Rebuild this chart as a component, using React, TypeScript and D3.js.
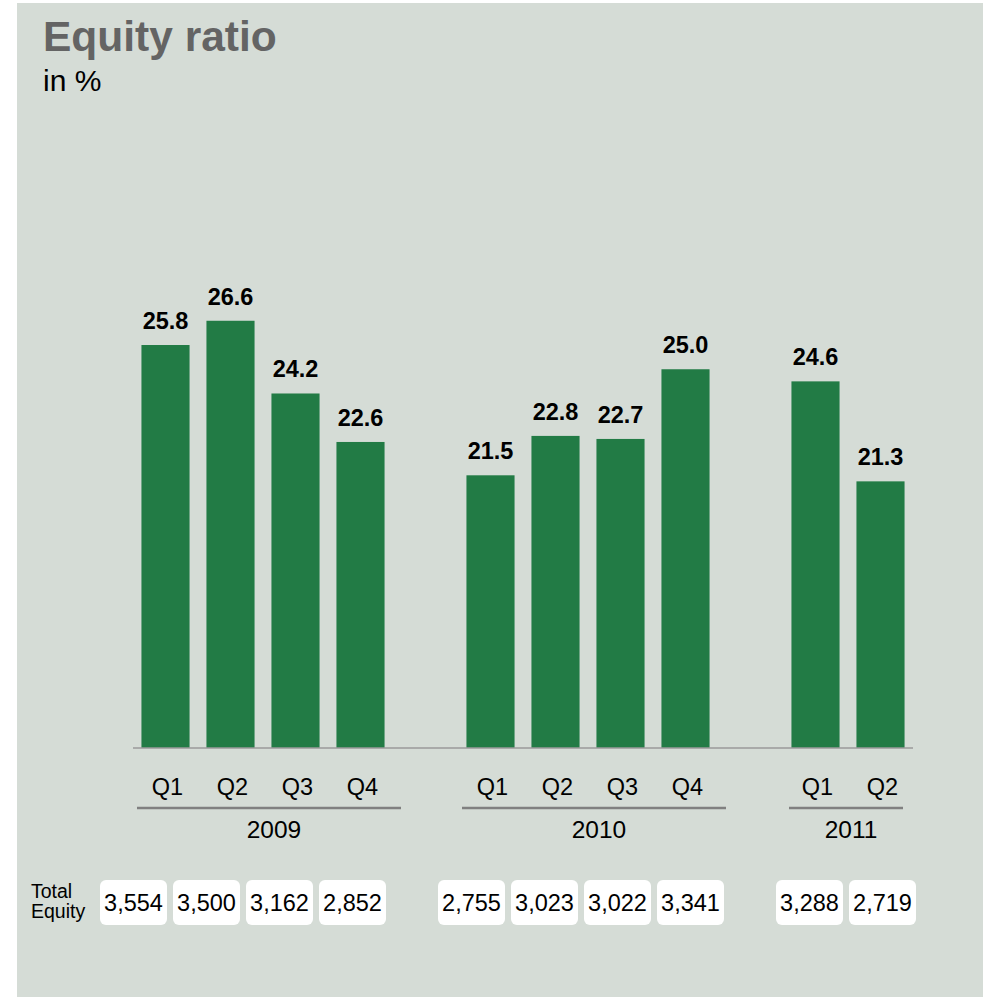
import * as d3 from 'd3';

const YEARS = ['2009', '2010', '2011'];
const QUARTERS = [
  ['Q1', 'Q2', 'Q3', 'Q4'],
  ['Q1', 'Q2', 'Q3', 'Q4'],
  ['Q1', 'Q2'],
];
const EQUITY_RATIO = [25.8, 26.6, 24.2, 22.6, 21.5, 22.8, 22.7, 25.0, 24.6, 21.3];
const TOTAL_EQUITY = [3554, 3500, 3162, 2852, 2755, 3023, 3022, 3341, 3288, 2719];

const W = 983;
const H = 997;
const BG = '#d5dcd6';
const BAR = '#227b45';
const FONT = '"Liberation Sans", Arial, Helvetica, sans-serif';

export default function App() {
  // flatten quarters, with one empty slot between years
  const bars: { key: string; q: string; year: string; value: number; equity: number }[] = [];
  const slots: string[] = [];
  let k = 0;
  YEARS.forEach((year, yi) => {
    if (yi > 0) slots.push(`gap-${yi}`);
    QUARTERS[yi].forEach(q => {
      const key = `${year}-${q}`;
      slots.push(key);
      bars.push({ key, q, year, value: EQUITY_RATIO[k], equity: TOTAL_EQUITY[k] });
      k++;
    });
  });

  const baseline = 748;
  const x = d3.scaleBand<string>()
    .domain(slots)
    .range([133, 913])
    .paddingInner(0.26)
    .paddingOuter(0.13);

  const y = d3.scaleLinear()
    .domain([12.5, 27.5])
    .range([baseline, baseline - 15 * 30.3]);

  const fmt = d3.format(',');

  // table of total equity boxes, packed per year
  const boxW = 67;
  const boxStep = 73;
  const groupGap = 52;
  const boxes: { x: number; equity: number }[] = [];
  let bx = 100;
  let bi = 0;
  YEARS.forEach((year, yi) => {
    QUARTERS[yi].forEach((q, qi) => {
      boxes.push({ x: bx, equity: bars[bi].equity });
      bi++;
      bx += qi < QUARTERS[yi].length - 1 ? boxStep : boxW + groupGap;
    });
  });

  const groups = YEARS.map((year, yi) => {
    const keys = QUARTERS[yi].map(q => `${year}-${q}`);
    const first = x(keys[0])!;
    const last = x(keys[keys.length - 1])! + x.bandwidth();
    const n = keys.length;
    const center = (first + last) / 2 + (n > 2 ? 6 : -2);
    const half = (n * x.step()) / 2 + (n > 2 ? 2 : -8);
    return { year, center, x1: center - half, x2: center + half };
  });

  return (
    <svg width={W} height={H} style={{ position: 'absolute', left: 0, top: 0, display: 'block' }}
      fontFamily={FONT}>
      <rect x={0} y={0} width={W} height={H} fill="#ffffff" />
      <rect x={17} y={3} width={W - 17} height={H - 3} fill={BG} />

      <text x={43} y={51} fontSize={42.5} fontWeight="bold" fill="#646464">Equity ratio</text>
      <text x={43} y={91} fontSize={30} fill="#000">in %</text>

      {bars.map(d => (
        <g key={d.key}>
          <rect x={x(d.key)} y={y(d.value)} width={x.bandwidth()} height={baseline - y(d.value)} fill={BAR} />
          <text x={x(d.key)! + x.bandwidth() / 2} y={y(d.value) - 16} textAnchor="middle"
            fontSize={23.5} fontWeight="bold" fill="#000">{d.value.toFixed(1)}</text>
          <text x={x(d.key)! + x.bandwidth() / 2 + 2} y={795} textAnchor="middle"
            fontSize={23.5} fill="#000">{d.q}</text>
        </g>
      ))}

      <line x1={133} x2={913} y1={baseline} y2={baseline} stroke="#9a9a9a" strokeWidth={1.5} />

      {groups.map(g => (
        <g key={g.year}>
          <line x1={g.x1} x2={g.x2} y1={808} y2={808} stroke="#808080" strokeWidth={2.5} />
          <text x={g.center + 5} y={838} textAnchor="middle" fontSize={24.5} fill="#000">{g.year}</text>
        </g>
      ))}

      <text x={31} y={898} fontSize={19.5} fill="#000">Total</text>
      <text x={31} y={918} fontSize={19.5} fill="#000">Equity</text>

      {boxes.map((b, i) => (
        <g key={i}>
          <rect x={b.x} y={880} width={boxW} height={45} rx={6} fill="#ffffff" />
          <text x={b.x + boxW / 2} y={911} textAnchor="middle" fontSize={23.5} fill="#000">{fmt(b.equity)}</text>
        </g>
      ))}
    </svg>
  );
}
